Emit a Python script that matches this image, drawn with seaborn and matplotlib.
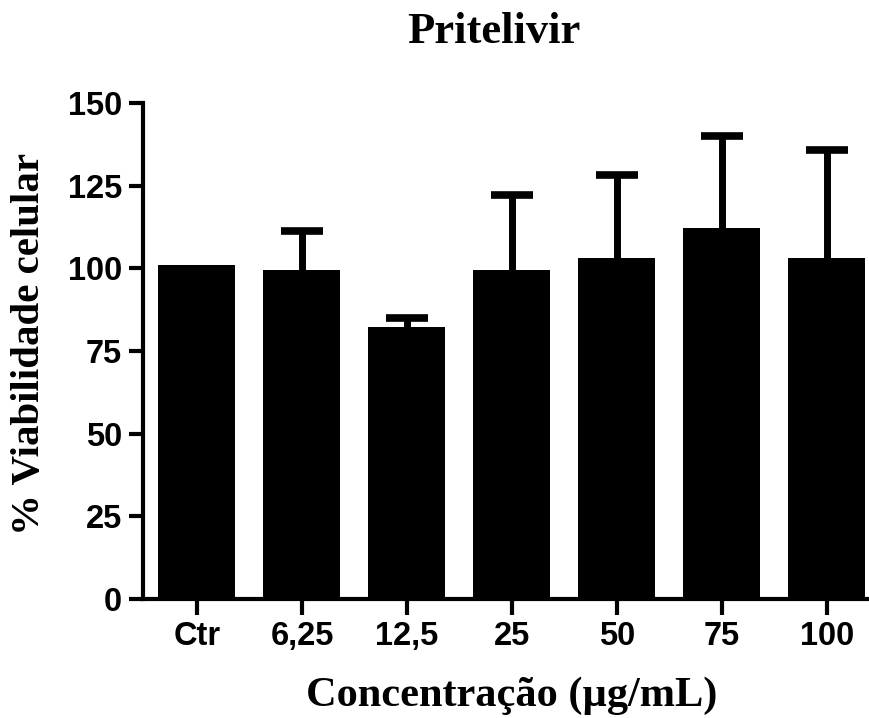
import matplotlib
matplotlib.use("Agg")
import matplotlib.pyplot as plt
import seaborn as sns
import pandas as pd
import numpy as np

categories = ["Ctr", "6,25", "12,5", "25", "50", "75", "100"]
means = [101.0, 99.6, 82.2, 99.6, 103.0, 112.1, 103.0]
err_up = [0.0, 11.6, 2.7, 22.6, 25.2, 28.0, 32.8]
yticks = [0, 25, 50, 75, 100, 125, 150]

title = "Pritelivir"
xlabel = "Concentração (µg/mL)"
ylabel = "% Viabilidade celular"

sns.set_style("ticks")
plt.rcParams["font.family"] = ["Liberation Sans", "DejaVu Sans"]
plt.rcParams["text.color"] = "black"
plt.rcParams["axes.labelcolor"] = "black"
plt.rcParams["xtick.color"] = "black"
plt.rcParams["ytick.color"] = "black"

df = pd.DataFrame({"cat": categories, "mean": means, "err": err_up})

W, H = 870, 718
fig = plt.figure(figsize=(W / 100, H / 100), dpi=100)
ax = fig.add_axes([143 / W, 1 - 599 / H, (W - 143) / W, (599 - 103) / H])

sns.barplot(data=df, x="cat", y="mean", color="black", width=0.733,
            saturation=1, ax=ax, errorbar=None, edgecolor="black", linewidth=0)

mask = df["err"] > 0
xpos = np.arange(len(categories))[mask.values]
eb = ax.errorbar(xpos, df["mean"][mask], yerr=[np.zeros(mask.sum()), df["err"][mask]],
                 fmt="none", ecolor="black", elinewidth=5, capsize=15, capthick=5.5,
                 zorder=1)
# hide the lower caps (one-sided upper error bars)
eb[1][0].set_visible(False)

ax.set_ylim(0, 150)
ax.set_xlim(-0.514, 6.41)
ax.set_yticks(yticks)
ax.set_yticklabels([str(v) for v in yticks])
ax.set_xlabel("")
ax.set_ylabel("")

for s in ["top", "right"]:
    ax.spines[s].set_visible(False)
for s in ["left", "bottom"]:
    ax.spines[s].set_linewidth(3)
    ax.spines[s].set_color("black")

ax.tick_params(axis="y", length=10, width=3, pad=5, labelsize=23.5, colors="black")
ax.tick_params(axis="x", length=11.5, width=3, pad=4, labelsize=23.5, colors="black")
for lab in ax.get_xticklabels() + ax.get_yticklabels():
    lab.set_fontweight("bold")
    lab.set_family(["Liberation Sans", "DejaVu Sans"])

serif = ["Liberation Serif", "DejaVu Serif"]
fig.text(494 / W, 1 - 43 / H, title, ha="center", va="baseline",
         fontsize=32, fontweight="bold", family=serif, color="black")
fig.text(512 / W, 1 - 706 / H, xlabel, ha="center", va="baseline",
         fontsize=30.5, fontweight="bold", family=serif, color="black")
fig.text(30 / W, 1 - 343.5 / H, ylabel, ha="center", va="center", rotation=90,
         fontsize=29.4, fontweight="bold", family=serif, color="black")

fig.savefig("out.png", dpi=100, facecolor="white")
